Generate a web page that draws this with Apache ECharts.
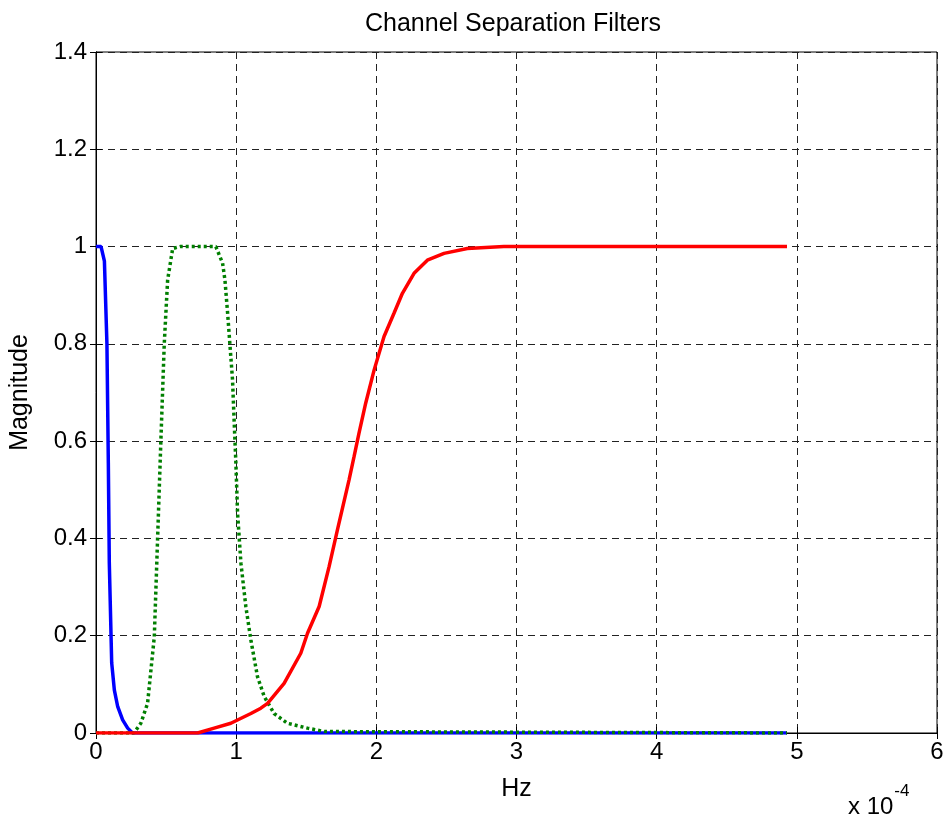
<!DOCTYPE html>
<html>
<head>
<meta charset="utf-8">
<script src="https://cdn.jsdelivr.net/npm/echarts@6/dist/echarts.min.js"></script>
<style>
  html, body { margin: 0; padding: 0; background: #fff; }
  #chart { width: 948px; height: 816px; }
</style>
</head>
<body>
<div id="chart"></div>
<script>
// x values are in units of 1e-4 Hz (axis shows "x 10^-4")
const blueX = [0, 0.036, 0.06, 0.078, 0.088, 0.095, 0.112, 0.131, 0.155, 0.19, 0.226, 0.26, 4.93]
const blueY = [1, 1, 0.97, 0.8, 0.555, 0.349, 0.144, 0.088, 0.054, 0.027, 0.01, 0, 0]

const greenX = [0, 0.27, 0.32, 0.368, 0.416, 0.44, 0.463, 0.487, 0.511, 0.547, 0.6, 0.7, 0.8, 0.855, 0.903, 0.92, 0.939, 0.974, 0.99, 0.998, 1.01, 1.034, 1.069, 1.105, 1.152, 1.2, 1.271, 1.366, 1.509, 1.63, 4.93]
const greenY = [0, 0, 0.02, 0.061, 0.198, 0.404, 0.602, 0.8, 0.931, 0.996, 1, 1, 1, 1, 0.966, 0.931, 0.863, 0.726, 0.61, 0.555, 0.452, 0.349, 0.26, 0.191, 0.116, 0.075, 0.04, 0.02, 0.01, 0.003, 0]

const redX = [0, 0.725, 0.843, 0.962, 1.105, 1.176, 1.224, 1.342, 1.461, 1.509, 1.592, 1.663, 1.722, 1.805, 1.841, 1.876, 1.924, 1.984, 2.055, 2.126, 2.186, 2.269, 2.364, 2.483, 2.649, 2.91, 4.93]
const redY = [0, 0, 0.01, 0.02, 0.04, 0.051, 0.061, 0.102, 0.164, 0.205, 0.26, 0.342, 0.417, 0.52, 0.568, 0.616, 0.678, 0.746, 0.815, 0.863, 0.904, 0.945, 0.972, 0.986, 0.996, 1, 1]

const xTicks = [0, 1, 2, 3, 4, 5, 6]
const yTicks = [0, 0.2, 0.4, 0.6, 0.8, 1, 1.2, 1.4]

const font = 'Liberation Sans, Arial, sans-serif'

function pairs (xs, ys) {
  return xs.map((x, i) => [x, ys[i]])
}

const chart = echarts.init(document.getElementById('chart'), null, { renderer: 'canvas' })

const gridLine = {
  show: true,
  lineStyle: { color: '#222', width: 1, type: [7, 5] }
}

const option = {
  animation: false,
  backgroundColor: '#fff',
  title: {
    text: 'Channel Separation Filters',
    left: 508,
    top: 7,
    textAlign: 'center',
    textStyle: { fontFamily: font, fontSize: 25, fontWeight: 'normal', color: '#000' }
  },
  grid: {
    left: 95,
    right: 11,
    top: 52,
    bottom: 83,
    show: true,
    borderColor: '#000',
    borderWidth: 1,
    backgroundColor: '#fff'
  },
  xAxis: [{
    type: 'value',
    min: xTicks[0],
    max: xTicks[xTicks.length - 1],
    interval: 1,
    name: 'Hz',
    nameLocation: 'middle',
    nameGap: 44,
    nameTextStyle: { fontFamily: font, fontSize: 25, color: '#000' },
    axisLine: { show: true, onZero: false, lineStyle: { color: '#000', width: 1 } },
    axisTick: { show: true, inside: true, length: 6, lineStyle: { color: '#000' } },
    axisLabel: { fontFamily: font, fontSize: 24, color: '#000', margin: 7 },
    splitLine: gridLine
  }, {
    type: 'value',
    position: 'top',
    min: xTicks[0],
    max: xTicks[xTicks.length - 1],
    interval: 1,
    axisLine: { show: true, lineStyle: { color: '#000' } },
    axisTick: { show: true, inside: true, length: 6, lineStyle: { color: '#000' } },
    axisLabel: { show: false },
    splitLine: { show: false }
  }],
  yAxis: [{
    type: 'value',
    min: yTicks[0],
    max: yTicks[yTicks.length - 1],
    interval: 0.2,
    name: 'Magnitude',
    nameLocation: 'middle',
    nameGap: 63,
    nameTextStyle: { fontFamily: font, fontSize: 25, color: '#000' },
    axisLine: { show: true, onZero: false, lineStyle: { color: '#000', width: 1 } },
    axisTick: { show: true, inside: true, length: 6, lineStyle: { color: '#000' } },
    axisLabel: { fontFamily: font, fontSize: 24, color: '#000', margin: 9 },
    splitLine: gridLine
  }, {
    type: 'value',
    position: 'right',
    min: yTicks[0],
    max: yTicks[yTicks.length - 1],
    interval: 0.2,
    axisLine: { show: true, lineStyle: { color: '#000' } },
    axisTick: { show: true, inside: true, length: 6, lineStyle: { color: '#000' } },
    axisLabel: { show: false },
    splitLine: { show: false }
  }],
  graphic: [{
    type: 'text',
    left: 848,
    top: 783,
    style: {
      text: '{a|x 10}{b|-4}',
      rich: {
        a: { fontFamily: font, fontSize: 24, color: '#000', padding: [12, 0, 0, 0] },
        b: { fontFamily: font, fontSize: 17, color: '#000', verticalAlign: 'top', padding: [0, 0, 0, 1] }
      }
    }
  }],
  series: [{
    type: 'line',
    data: pairs(blueX, blueY),
    showSymbol: false,
    lineStyle: { color: '#0000ff', width: 3.5 }
  }, {
    type: 'line',
    data: pairs(greenX, greenY),
    showSymbol: false,
    lineStyle: { color: '#007f00', width: 3.5, type: [3, 3] }
  }, {
    type: 'line',
    data: pairs(redX, redY),
    showSymbol: false,
    lineStyle: { color: '#ff0000', width: 3.5 }
  }]
}

option && chart.setOption(option)
</script>
</body>
</html>
